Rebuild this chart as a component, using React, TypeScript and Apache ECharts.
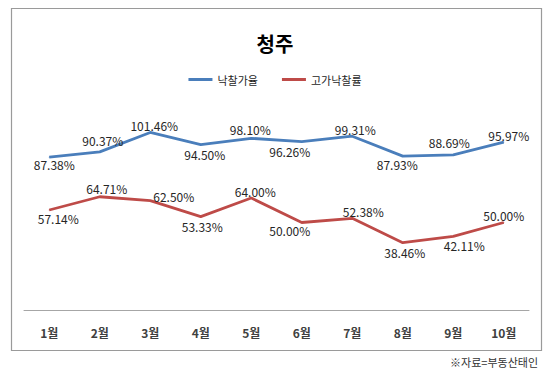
import React, { useEffect, useRef } from "react";
import * as echarts from "echarts";

const categories = ["1월", "2월", "3월", "4월", "5월", "6월", "7월", "8월", "9월", "10월"];
const saleRate = [87.38, 90.37, 101.46, 94.5, 98.1, 96.26, 99.31, 87.93, 88.69, 95.97];
const highRate = [57.14, 64.71, 62.5, 53.33, 64.0, 50.0, 52.38, 38.46, 42.11, 50.0];
const seriesNames = ["낙찰가율", "고가낙찰률"];
const titleText = "청주";
const sourceText = "※자료=부동산태인";

// label offsets (style only), relative to each point
const saleOffsets = [[5, 7], [3, -11], [4, -6.5], [4, 9.5], [-1, -9], [-12, 10], [3, -6.5], [-5.5, 8.5], [-4, -12], [5, -7]];
const highOffsets = [[9, 8], [7, -8], [23.5, -4], [1.5, 9.7], [4, -6.5], [-12, 8], [11, -7], [2, 10], [11, 9], [0, -7]];

const FONT = "'Noto Sans CJK KR', 'Noto Sans', sans-serif";

function buildData(values: number[], offsets: number[][]) {
  return values.map((v, i) => ({
    value: v,
    label: { offset: offsets[i] },
  }));
}

export default function App() {
  const ref = useRef<HTMLDivElement>(null);
  useEffect(() => {
    if (!ref.current) return;
    const chart = echarts.init(ref.current, null, { renderer: "svg" });
    const labelCommon = {
      show: true,
      position: "inside",
      fontSize: 12,
      fontFamily: FONT,
      color: "#262626",
      formatter: (p: any) => p.value.toFixed(2) + "%",
    };
    chart.setOption({
      animation: false,
      backgroundColor: "#ffffff",
      title: {
        text: titleText,
        left: "center",
        top: 28,
        textStyle: { fontSize: 20, fontWeight: "bold", fontFamily: FONT, color: "#000" },
      },
      legend: {
        data: seriesNames,
        left: "center",
        top: 69,
        icon: "rect",
        itemWidth: 24,
        itemHeight: 3,
        itemGap: 24,
        textStyle: { fontSize: 11, fontFamily: FONT, color: "#262626" },
      },
      grid: { left: 24, right: 21, top: 100, bottom: 66 },
      xAxis: {
        type: "category",
        data: categories,
        boundaryGap: true,
        axisLine: { show: true, lineStyle: { color: "#a6a6a6", width: 1 } },
        axisTick: { show: false },
        axisLabel: { margin: 16, fontSize: 12, fontWeight: "bold", fontFamily: FONT, color: "#404040" },
        splitLine: { show: false },
      },
      yAxis: {
        type: "value",
        min: 0,
        max: 120,
        show: false,
        splitLine: { show: false },
      },
      series: [
        {
          name: seriesNames[0],
          type: "line",
          data: buildData(saleRate, saleOffsets),
          symbol: "circle",
          symbolSize: 1,
          itemStyle: { color: "#4A7EBB" },
          lineStyle: { color: "#4A7EBB", width: 2.8 },
          label: labelCommon,
        },
        {
          name: seriesNames[1],
          type: "line",
          data: buildData(highRate, highOffsets),
          symbol: "circle",
          symbolSize: 1,
          itemStyle: { color: "#BE4B48" },
          lineStyle: { color: "#BE4B48", width: 2.8 },
          label: labelCommon,
        },
      ],
      graphic: [
        {
          type: "rect",
          shape: { x: 11.5, y: 8.5, width: 530, height: 342 },
          style: { fill: "none", stroke: "#9a9a9a", lineWidth: 1.2 },
          silent: true,
          z: -1,
        },
        {
          type: "text",
          right: 12,
          top: 356,
          style: { text: sourceText, fontSize: 11, fontFamily: FONT, fill: "#333333" },
        },
      ],
    });
    return () => chart.dispose();
  }, []);
  return (
    <div
      ref={ref}
      style={{ position: "fixed", left: 0, top: 0, width: 550, height: 376, background: "#fff" }}
    />
  );
}
